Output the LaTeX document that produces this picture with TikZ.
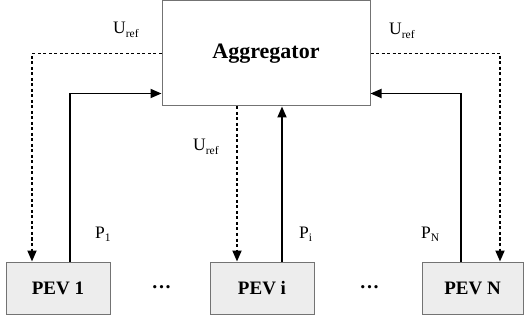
\documentclass[tikz,border=0pt]{standalone}
\usepackage{fontspec}
\setmainfont{Liberation Serif}
\usetikzlibrary{arrows.meta,arrows}
\newcommand{\lowtxt}[1]{\raisebox{-0.2em}{\fontsize{11.5}{12}\selectfont #1}}

\begin{document}
\begin{tikzpicture}
[x=1pt,y=-1pt,
aggblock/.style ={rectangle, draw=black!55, line width=1pt, fill=white,
minimum width=208pt, minimum height=105pt,
font=\fontsize{22}{25}\selectfont\bfseries},
pevblock/.style ={rectangle, draw=black!55, line width=1pt, fill=black!7,
minimum width=104pt, minimum height=52pt,
font=\fontsize{19}{22}\selectfont\bfseries},
lbl/.style ={inner sep=0pt, anchor=base west,
font=\fontsize{17.5}{20}\selectfont},
dots/.style ={inner sep=0pt, anchor=base,
font=\fontsize{20}{22}\selectfont\bfseries},
line/.style ={draw, line width=1.8pt, -{Triangle[length=11pt,width=9pt]}},
dline/.style ={line, dash pattern=on 3pt off 2.5pt}]
\useasboundingbox (0,0) rectangle (524,320);
% the aggregator and the vehicles
\node [aggblock] (agg)  at (266,53.5) {Aggregator};
\node [pevblock] (pev1) at (58,288)   {PEV 1};
\node [pevblock] (pevi) at (262,288)  {PEV i};
\node [pevblock, minimum width=101pt] (pevn) at (472.5,288) {PEV N};
% labels
\node [lbl] (uref1) at (113,34)  {U\lowtxt{ref}};
\node [lbl] (urefi) at (193,151) {U\lowtxt{ref}};
\node [lbl] (urefn) at (389,35)  {U\lowtxt{ref}};
\node [lbl] (p1)    at (95,238)  {P\lowtxt{1}};
\node [lbl] (pi)    at (299,238) {P\lowtxt{i}};
\node [lbl] (pn)    at (421,238) {P\lowtxt{N}};
\node [dots] (dotsa) at (161.5,288) {.\kern1.6pt.\kern1.6pt.};
\node [dots] (dotsb) at (369.5,288) {.\kern1.6pt.\kern1.6pt.};
\begin{scope}[every path/.style=line]
\path [dline] (agg.west) -| ([xshift=-26pt]pev1.north);
\path      ([xshift=12pt]pev1.north) |- ([yshift=-40pt]agg.west);
\path [dline] ([xshift=-29pt]agg.south) -- ([xshift=-29pt]agg.south |- pevi.north);
\path      ([xshift=20pt]pevi.north) -- ([xshift=20pt]pevi.north |- agg.south);
\path [dline] (agg.east) -| ([xshift=27.5pt]pevn.north);
\path      ([xshift=-11.5pt]pevn.north) |- ([yshift=-40pt]agg.east);
\end{scope}
\end{tikzpicture}
\end{document}
